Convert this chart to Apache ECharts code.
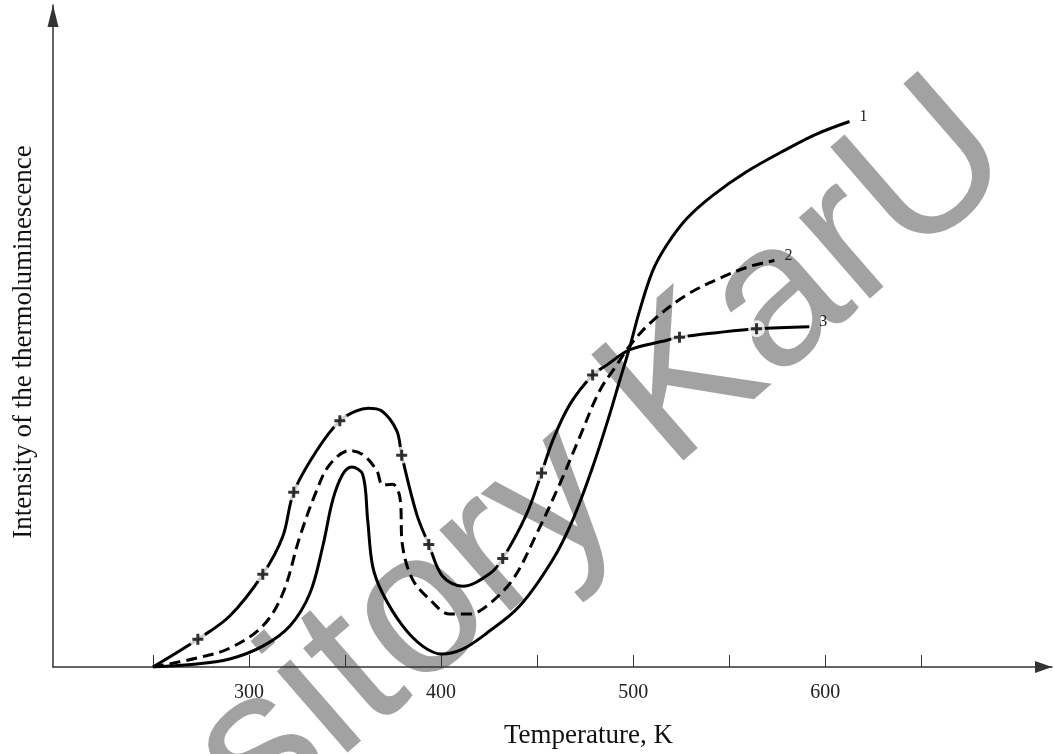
<!DOCTYPE html>
<html>
<head>
<meta charset="utf-8">
<script src="https://cdn.jsdelivr.net/npm/echarts@6/dist/echarts.min.js"></script>
<style>
  html, body { margin: 0; padding: 0; background: #fff; }
  #chart { width: 1054px; height: 754px; }
</style>
</head>
<body>
<div id="chart"></div>
<script>
// temperature (K) vs intensity (arbitrary units, 0-100)
const curve1 = [
  [250, 0], [272.9, 0.45], [290, 1.2], [307.2, 3.15], [321.3, 6.2], [331.7, 11.1],
  [338.4, 18.2], [343.6, 25.2], [348.8, 29.1], [353.5, 30.2], [359.2, 29.1],
  [361.8, 22.2], [364.4, 15.2], [369.6, 11.1], [380, 6.2], [390.4, 3.15],
  [400.3, 1.95], [411.2, 2.7], [423.7, 5.1], [440.9, 9.2], [458.1, 16.2],
  [468.5, 22.2], [478.9, 30.2], [487.7, 38.1], [492.9, 43.2], [498.1, 48.2],
  [503.3, 53.8], [510.1, 59.8], [517.4, 63.7], [527.8, 67.7], [541.3, 71.2],
  [559, 74.8], [579.8, 78.2], [595.4, 80.5], [612.6, 82.4]
];
const curve2 = [
  [250, 0], [272.9, 1.35], [290, 2.85], [307.2, 6.2], [317.6, 11.1], [326.5, 19.7],
  [335.3, 26.7], [342.1, 30.6], [352.5, 32.7], [359.2, 32.1], [366.5, 29.7],
  [369.6, 27.5], [374.8, 27.6], [378.5, 25.7], [380, 18.2], [385.2, 13.2],
  [394.1, 10.2], [404.5, 8.0], [414.9, 8.0], [423.7, 9.2], [437.3, 13.2],
  [449.7, 20.1], [461.7, 27.6], [472.1, 34.7], [482.5, 41.7], [491.4, 45.6],
  [498.1, 48.5], [510.1, 52.3], [527.8, 56.2], [544.9, 58.7], [560.5, 60.5], [573.5, 61.4]
];
const curve3 = [
  [250, 0], [273.4, 4.2], [290, 7.7], [307.2, 14.0], [317.6, 19.7], [323.3, 26.4],
  [335.3, 32.7], [347.3, 37.2], [356, 38.7], [362, 39.1], [369, 38.7], [376.9, 35.7],
  [379.5, 32.0], [387.3, 23.1], [393.6, 18.5], [400.8, 13.7], [411.2, 12.2],
  [425.3, 14.1], [432.1, 16.4], [444.5, 23.1], [452.3, 29.3], [458.1, 34.2],
  [466.9, 39.6], [478.9, 44.1], [486.2, 45.6], [498.1, 47.9], [515.3, 49.2],
  [524.1, 49.8], [543.4, 50.5], [564.2, 51.1], [591.7, 51.4]
];
const curve3Marks = [
  [273.4, 4.2], [307.2, 14.0], [323.3, 26.4], [347.3, 37.2], [379.5, 32.0],
  [393.6, 18.5], [432.1, 16.4], [452.3, 29.3], [478.9, 44.1], [524.1, 49.8], [564.2, 51.1]
];
const tickValues = [250, 300, 350, 400, 450, 500, 550, 600, 650];
const labelValues = [300, 400, 500, 600];
const curveNames = ['1', '2', '3'];

const serif = '"Liberation Serif", "DejaVu Serif", serif';
const plusPath = 'path://M4,0H7V4H11V7H7V11H4V7H0V4H4Z';

const chart = echarts.init(document.getElementById('chart'));

function endLabel(text) {
  return {
    show: true,
    formatter: text,
    distance: 8,
    offset: [2, -5],
    fontFamily: serif,
    fontSize: 16,
    color: '#222'
  };
}

chart.setOption({
  animation: false,
  backgroundColor: '#fff',
  grid: { left: 53, right: 2, top: 5, bottom: 83, containLabel: false },
  graphic: [{
    type: 'text',
    x: 420,
    y: 615,
    rotation: 41 * Math.PI / 180,
    z: 0,
    style: {
      text: 'Repository KarU',
      fontSize: 204,
      fontFamily: '"Liberation Sans", Arial, sans-serif',
      fill: '#a2a2a2',
      align: 'center',
      verticalAlign: 'middle'
    }
  }],
  xAxis: {
    type: 'value',
    min: 198,
    max: 718,
    splitLine: { show: false },
    axisLine: {
      lineStyle: { color: '#333', width: 1.5 },
      symbol: ['none', 'triangle'],
      symbolSize: [12, 17],
      symbolOffset: [0, -8.5]
    },
    axisTick: { inside: true, length: 12, customValues: tickValues, lineStyle: { color: '#333', width: 1 } },
    axisLabel: {
      customValues: labelValues,
      margin: 16,
      fontFamily: serif,
      fontSize: 20,
      color: '#222'
    },
    name: 'Temperature, K',
    nameLocation: 'middle',
    nameGap: 55,
    nameTextStyle: { fontFamily: serif, fontSize: 27, color: '#111', padding: [0, 0, 0, 72] }
  },
  yAxis: {
    type: 'value',
    min: 0,
    max: 100,
    splitLine: { show: false },
    axisTick: { show: false },
    axisLabel: { show: false },
    axisLine: {
      show: true,
      lineStyle: { color: '#333', width: 1.5 },
      symbol: ['none', 'triangle'],
      symbolSize: [11, 22],
      symbolOffset: [0, -11]
    },
    name: 'Intensity of the thermoluminescence',
    nameLocation: 'middle',
    nameRotate: 90,
    nameGap: 16,
    nameTextStyle: { fontFamily: serif, fontSize: 27, color: '#111', padding: [0, 12, 0, 0] }
  },
  series: [
    {
      type: 'line', data: curve1, smooth: 0.35, showSymbol: false, z: 2,
      lineStyle: { color: '#000', width: 3 },
      endLabel: endLabel(curveNames[0])
    },
    {
      type: 'line', data: curve2, smooth: 0.35, showSymbol: false, z: 2,
      lineStyle: { color: '#000', width: 3, type: [11, 6] },
      endLabel: endLabel(curveNames[1])
    },
    {
      type: 'line', data: curve3, smooth: 0.35, showSymbol: false, z: 2,
      lineStyle: { color: '#000', width: 3 },
      endLabel: endLabel(curveNames[2])
    },
    {
      // white gaps around the "+" marks of curve 3
      type: 'scatter', data: curve3Marks, symbol: 'circle', symbolSize: 17, z: 3,
      itemStyle: { color: '#fff' }, silent: true
    },
    {
      type: 'scatter', data: curve3Marks, symbol: plusPath, symbolSize: 11, z: 4,
      itemStyle: { color: '#000' }, silent: true
    }
  ]
});
</script>
</body>
</html>
